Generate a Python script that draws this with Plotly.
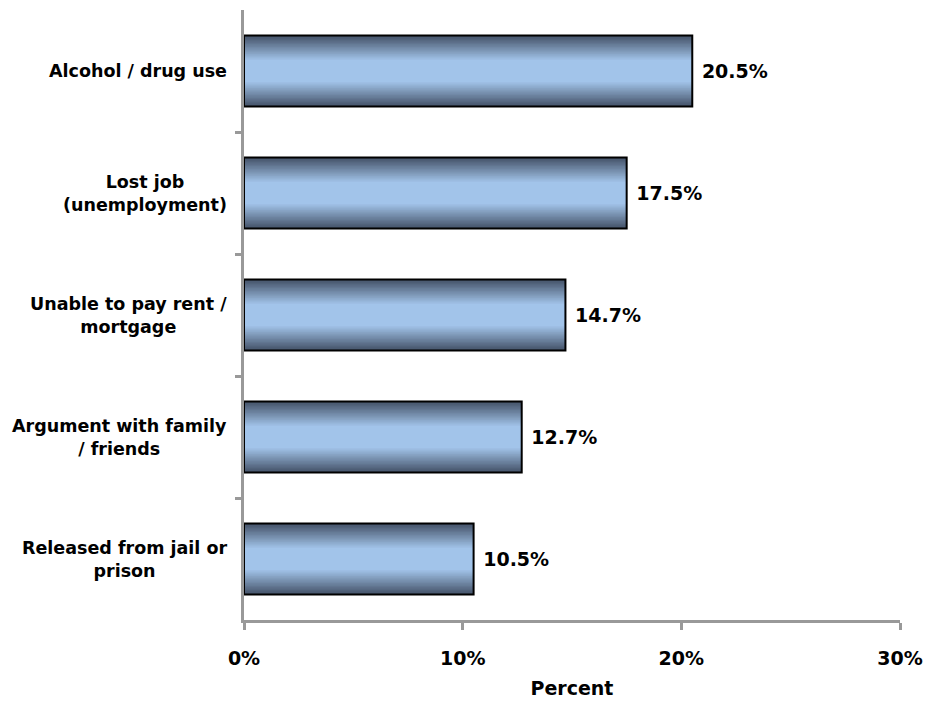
import plotly.graph_objects as go

categories = ["Alcohol / drug use", "Lost job<br>(unemployment)", "Unable to pay rent /<br>mortgage",
              "Argument with family<br>/ friends", "Released from jail or<br>prison"]
values = [20.5, 17.5, 14.7, 12.7, 10.5]
labels = ["20.5%", "17.5%", "14.7%", "12.7%", "10.5%"]
x_ticks = [0, 10, 20, 30]
x_tick_text = ["0%", "10%", "20%", "30%"]

FONT = "DejaVu Sans"
BAR_W = 0.58
DARK = (70, 84, 106)
LIGHT = (162, 196, 234)
N = 18

ids = list(range(len(categories)))
fig = go.Figure()

for k in range(N):
    d = 1 - k * (0.68 / (N - 1))
    t = k / (N - 1)
    c = tuple(round(DARK[i] + (LIGHT[i] - DARK[i]) * t) for i in range(3))
    fig.add_trace(go.Bar(
        x=values, y=ids, orientation="h", width=BAR_W * d,
        marker=dict(color="rgb(%d,%d,%d)" % c, line=dict(width=0)),
        hoverinfo="skip", showlegend=False))

fig.add_trace(go.Bar(
    x=values, y=ids, orientation="h", width=BAR_W,
    marker=dict(color="rgba(0,0,0,0)", line=dict(color="black", width=2)),
    text=["\u00a0" + s for s in labels], textposition="outside", cliponaxis=False,
    textfont=dict(family=FONT, size=19, color="black", weight="bold"),
    showlegend=False))

for i, cat in enumerate(categories):
    fig.add_annotation(
        x=0, xref="paper", y=i, yref="y", text="<b>%s</b>" % cat,
        xanchor="right", align="center", xshift=-15, showarrow=False,
        font=dict(family=FONT, size=17.5, color="black"))

fig.update_layout(
    width=926, height=708, barmode="overlay", autosize=False,
    margin=dict(l=244, r=26, t=10, b=88, autoexpand=False),
    plot_bgcolor="white", paper_bgcolor="white",
    font=dict(family=FONT, color="black"),
    xaxis=dict(range=[0, 30], tickvals=x_ticks, ticktext=x_tick_text, automargin=False,
               showgrid=False, zeroline=False, showline=True, linecolor="#999999",
               linewidth=3, ticks="outside", tickcolor="#999999", tickwidth=3, ticklen=7,
               ticklabelstandoff=12, ticklabeloverflow="allow",
               tickfont=dict(family=FONT, size=19, color="black", weight="bold"),
               title=dict(text="<b>Percent</b>", standoff=14,
                          font=dict(family=FONT, size=19, color="black"))),
    yaxis=dict(range=[4.5, -0.5], tickvals=[0.5, 1.5, 2.5, 3.5], showticklabels=False,
               automargin=False,
               showgrid=False, zeroline=False, showline=True, linecolor="#999999",
               linewidth=3, ticks="outside", tickcolor="#999999", tickwidth=3, ticklen=6),
)

fig.write_html("out.html", config={"displayModeBar": False},
               post_script="document.body.style.margin='0';")
